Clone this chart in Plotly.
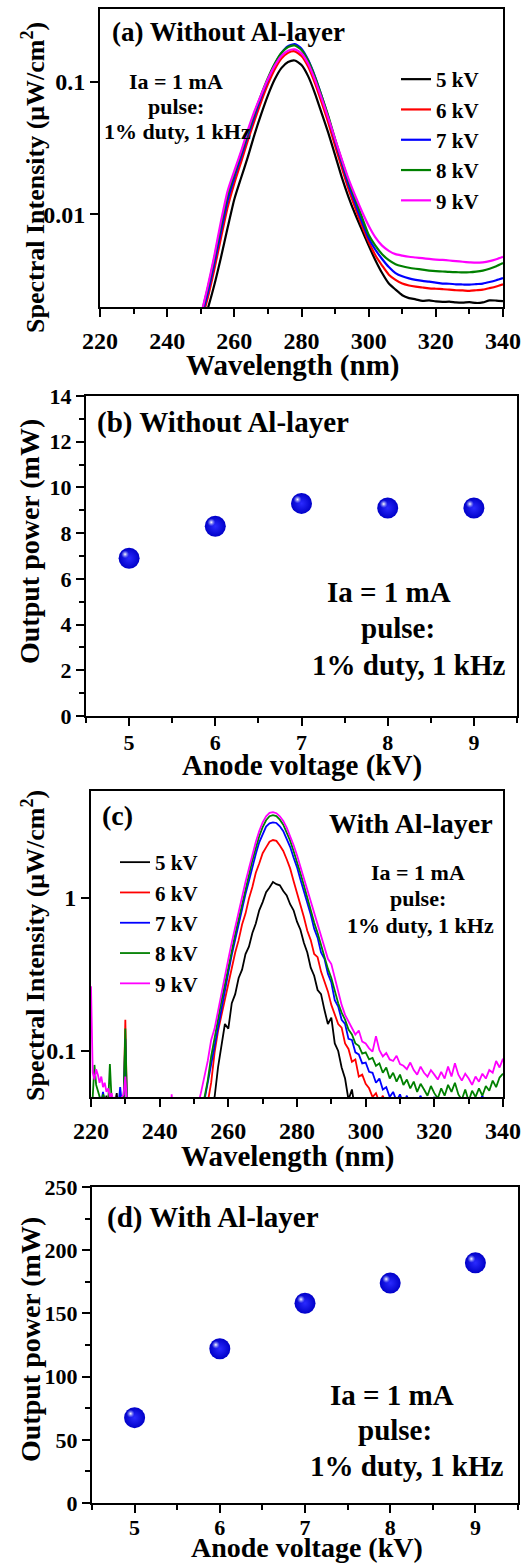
import plotly.graph_objects as go

W, H = 524, 1565
FONT = '"Liberation Serif", "Times New Roman", Times, serif'

# ---------------- data ----------------
series_names = ["5 kV", "6 kV", "7 kV", "8 kV", "9 kV"]
series_colors = ["#000000", "#ff0000", "#0000ff", "#008000", "#ff00ff"]

# (a) spectra without Al-layer, 2 nm step
wl_a = list(range(250, 341, 2))
spec_a_5kv = [0.0013, 0.0019, 0.0029, 0.0047, 0.0079, 0.0130, 0.0188, 0.027, 0.040, 0.057,
              0.079, 0.104, 0.127, 0.141, 0.145, 0.134, 0.110, 0.082, 0.058, 0.041,
              0.028, 0.019, 0.0135, 0.0100, 0.0076, 0.0058, 0.0045, 0.0036, 0.0030, 0.0027,
              0.00245, 0.00233, 0.00228, 0.00222, 0.00224, 0.00220, 0.00218, 0.00219, 0.00216, 0.00215,
              0.00217, 0.00214, 0.00216, 0.00224, 0.00223, 0.00221]
spec_a_6kv = [0.0015, 0.0023, 0.0038, 0.0066, 0.0113, 0.0172, 0.0248, 0.036, 0.051, 0.071,
              0.096, 0.124, 0.150, 0.166, 0.170, 0.157, 0.130, 0.098, 0.070, 0.049,
              0.033, 0.0225, 0.0155, 0.0112, 0.0082, 0.0062, 0.0049, 0.0041, 0.0035, 0.0032,
              0.00300, 0.00290, 0.00284, 0.00280, 0.00276, 0.00274, 0.00272, 0.00270, 0.00267, 0.00266,
              0.00264, 0.00267, 0.00270, 0.00277, 0.00285, 0.00296]
spec_a_7kv = [0.0016, 0.0025, 0.0042, 0.0074, 0.0127, 0.0190, 0.0272, 0.039, 0.055, 0.077,
              0.104, 0.135, 0.165, 0.186, 0.193, 0.178, 0.146, 0.110, 0.078, 0.054,
              0.036, 0.0245, 0.0168, 0.0121, 0.0088, 0.0066, 0.0054, 0.0046, 0.0040, 0.0036,
              0.00340, 0.00328, 0.00320, 0.00314, 0.00310, 0.00305, 0.00300, 0.00299, 0.00296, 0.00295,
              0.00294, 0.00297, 0.00300, 0.00308, 0.00318, 0.00330]
spec_a_8kv = [0.0017, 0.0027, 0.0046, 0.0082, 0.0140, 0.0203, 0.0288, 0.041, 0.058, 0.080,
              0.107, 0.137, 0.165, 0.183, 0.188, 0.174, 0.144, 0.109, 0.078, 0.055,
              0.037, 0.0255, 0.0178, 0.0130, 0.0095, 0.0070, 0.0058, 0.0050, 0.0045, 0.0042,
              0.00405, 0.00395, 0.00388, 0.00382, 0.00376, 0.00372, 0.00370, 0.00367, 0.00366, 0.00364,
              0.00365, 0.00369, 0.00376, 0.00388, 0.00405, 0.00428]
spec_a_9kv = [0.0017, 0.0028, 0.0048, 0.0088, 0.0150, 0.0213, 0.0298, 0.043, 0.060, 0.080,
              0.105, 0.132, 0.157, 0.172, 0.176, 0.164, 0.137, 0.104, 0.075, 0.053,
              0.037, 0.026, 0.0185, 0.0138, 0.0105, 0.0082, 0.0067, 0.0058, 0.0053, 0.0050,
              0.00488, 0.00478, 0.00472, 0.00466, 0.00460, 0.00455, 0.00452, 0.00448, 0.00443, 0.00438,
              0.00434, 0.00431, 0.00434, 0.00443, 0.00458, 0.00478]

# (b) output power without Al-layer
anode_kv = [5, 6, 7, 8, 9]
power_b = [6.9, 8.3, 9.3, 9.1, 9.1]

# (c) spectra with Al-layer: short-wavelength noise region (0.5 nm step) and main band (1 nm step)
wl_c_low = [220, 220.5, 221, 221.5, 222, 222.5, 223, 223.5, 224, 224.5, 225, 225.5, 226,
            226.5, 227, 227.5, 228, 228.5, 229, 229.5, 230, 230.5, 231, 231.5, 232, 243, 243.5, 244]
low_c_5kv = [0.03, 0.032, 0.035, 0.04, 0.038, 0.042, 0.04, 0.045, 0.044, 0.051, 0.04, 0.038, 0.036,
             0.04, 0.045, 0.053, 0.04, 0.036, 0.034, 0.038, 0.04, 0.035, 0.03, 0.032, 0.03, 0.03, 0.03, 0.03]
low_c_6kv = [0.035, 0.04, 0.045, 0.042, 0.046, 0.04, 0.044, 0.038, 0.042, 0.04, 0.037, 0.04, 0.036,
             0.035, 0.038, 0.034, 0.036, 0.04, 0.042, 0.045, 0.160, 0.04, 0.035, 0.032, 0.03, 0.03, 0.03, 0.03]
low_c_7kv = [0.035, 0.042, 0.046, 0.048, 0.044, 0.05, 0.046, 0.054, 0.048, 0.04, 0.043, 0.038, 0.04,
             0.036, 0.038, 0.04, 0.044, 0.058, 0.045, 0.048, 0.120, 0.04, 0.036, 0.033, 0.03, 0.03, 0.03, 0.03]
low_c_8kv = [0.04, 0.05, 0.081, 0.06, 0.055, 0.05, 0.046, 0.052, 0.048, 0.045, 0.046, 0.082, 0.048,
             0.042, 0.04, 0.038, 0.042, 0.044, 0.046, 0.048, 0.140, 0.042, 0.038, 0.034, 0.03, 0.03, 0.03, 0.03]
low_c_9kv = [0.265, 0.072, 0.065, 0.076, 0.07, 0.062, 0.068, 0.058, 0.062, 0.054, 0.057, 0.05, 0.053,
             0.046, 0.05, 0.044, 0.047, 0.043, 0.05, 0.052, 0.068, 0.045, 0.04, 0.035, 0.03, 0.03, 0.052, 0.03]

wl_c = list(range(251, 341))
spec_c_5kv = [0.030, 0.028, 0.033, 0.031, 0.040, 0.050, 0.078, 0.112, 0.150, 0.140,
              0.205, 0.235, 0.300, 0.340, 0.430, 0.480, 0.590, 0.680, 0.830, 0.940,
              1.090, 1.170, 1.270, 1.230, 1.210, 1.110, 1.040, 0.910, 0.830, 0.700,
              0.620, 0.510, 0.440, 0.350, 0.310, 0.250, 0.235, 0.185, 0.150, 0.165,
              0.112, 0.100, 0.078, 0.066, 0.048, 0.056, 0.040, 0.046, 0.036, 0.040,
              0.035, 0.032, 0.036, 0.033, 0.038, 0.034, 0.031, 0.035, 0.033, 0.030,
              0.034, 0.032, 0.036, 0.031, 0.033, 0.035, 0.030, 0.034, 0.032, 0.031,
              0.035, 0.033, 0.030, 0.034, 0.032, 0.036, 0.031, 0.033, 0.035, 0.032,
              0.034, 0.031, 0.033, 0.036, 0.032, 0.034, 0.033, 0.035, 0.032, 0.034]
spec_c_6kv = [0.032, 0.036, 0.041, 0.046, 0.062, 0.098, 0.135, 0.170, 0.215, 0.280,
              0.340, 0.440, 0.530, 0.670, 0.790, 0.990, 1.180, 1.460, 1.680, 1.960,
              2.140, 2.330, 2.390, 2.360, 2.200, 2.030, 1.790, 1.560, 1.290, 1.090,
              0.890, 0.750, 0.610, 0.530, 0.430, 0.410, 0.330, 0.280, 0.245, 0.200,
              0.175, 0.150, 0.142, 0.112, 0.103, 0.085, 0.088, 0.068, 0.070, 0.061,
              0.057, 0.050, 0.053, 0.046, 0.051, 0.044, 0.048, 0.042, 0.045, 0.040,
              0.043, 0.039, 0.041, 0.038, 0.042, 0.040, 0.037, 0.041, 0.039, 0.042,
              0.038, 0.040, 0.043, 0.039, 0.041, 0.038, 0.042, 0.040, 0.039, 0.041,
              0.043, 0.040, 0.038, 0.042, 0.041, 0.039, 0.043, 0.040, 0.042, 0.044]
spec_c_7kv = [0.036, 0.040, 0.047, 0.062, 0.086, 0.108, 0.150, 0.198, 0.262, 0.325,
              0.425, 0.535, 0.690, 0.840, 1.060, 1.290, 1.610, 1.940, 2.310, 2.640,
              2.930, 3.070, 3.120, 3.090, 2.940, 2.730, 2.440, 2.160, 1.840, 1.590,
              1.320, 1.110, 0.910, 0.780, 0.630, 0.550, 0.440, 0.400, 0.320, 0.280,
              0.215, 0.195, 0.160, 0.150, 0.120, 0.118, 0.098, 0.095, 0.083, 0.084,
              0.073, 0.072, 0.062, 0.066, 0.056, 0.058, 0.050, 0.054, 0.047, 0.052,
              0.045, 0.051, 0.044, 0.049, 0.046, 0.051, 0.043, 0.047, 0.045, 0.050,
              0.044, 0.046, 0.043, 0.047, 0.045, 0.042, 0.046, 0.044, 0.047, 0.043,
              0.045, 0.042, 0.046, 0.051, 0.044, 0.047, 0.043, 0.046, 0.048, 0.047]
spec_c_8kv = [0.036, 0.041, 0.049, 0.064, 0.092, 0.118, 0.160, 0.212, 0.268, 0.350,
              0.448, 0.580, 0.730, 0.920, 1.150, 1.420, 1.760, 2.110, 2.530, 2.900,
              3.220, 3.420, 3.480, 3.430, 3.250, 3.010, 2.700, 2.370, 2.030, 1.730,
              1.450, 1.210, 1.000, 0.840, 0.690, 0.590, 0.490, 0.420, 0.345, 0.300,
              0.245, 0.205, 0.178, 0.160, 0.138, 0.128, 0.112, 0.108, 0.096, 0.098,
              0.088, 0.090, 0.080, 0.083, 0.072, 0.078, 0.066, 0.072, 0.063, 0.070,
              0.060, 0.065, 0.057, 0.063, 0.054, 0.061, 0.056, 0.051, 0.059, 0.053,
              0.049, 0.057, 0.051, 0.060, 0.054, 0.062, 0.052, 0.048, 0.056, 0.047,
              0.055, 0.050, 0.057, 0.051, 0.059, 0.055, 0.064, 0.058, 0.067, 0.071]
spec_c_9kv = [0.043, 0.053, 0.066, 0.086, 0.118, 0.140, 0.182, 0.240, 0.312, 0.398,
              0.512, 0.648, 0.822, 1.020, 1.270, 1.560, 1.920, 2.320, 2.740, 3.120,
              3.420, 3.600, 3.640, 3.580, 3.420, 3.180, 2.880, 2.560, 2.220, 1.900,
              1.600, 1.350, 1.120, 0.960, 0.800, 0.690, 0.580, 0.490, 0.400, 0.370,
              0.300, 0.250, 0.200, 0.172, 0.155, 0.142, 0.128, 0.136, 0.115, 0.112,
              0.104, 0.099, 0.125, 0.101, 0.092, 0.097, 0.088, 0.086, 0.093, 0.082,
              0.080, 0.076, 0.084, 0.075, 0.070, 0.079, 0.072, 0.068, 0.075, 0.070,
              0.065, 0.073, 0.066, 0.079, 0.068, 0.083, 0.070, 0.064, 0.071, 0.066,
              0.060, 0.068, 0.063, 0.071, 0.066, 0.075, 0.072, 0.086, 0.078, 0.089]

# (d) output power with Al-layer
power_d = [67.5, 122, 158, 174, 190]

# minor tick positions of the two log axes
minor_ticks_a = [0.002, 0.003, 0.004, 0.005, 0.006, 0.007, 0.008, 0.009,
                 0.02, 0.03, 0.04, 0.05, 0.06, 0.07, 0.08, 0.09, 0.2, 0.3]
minor_ticks_c = [0.06, 0.07, 0.08, 0.09, 0.2, 0.3, 0.4, 0.5, 0.6, 0.7, 0.8, 0.9,
                 2, 3, 4, 5]

spec_a = [spec_a_5kv, spec_a_6kv, spec_a_7kv, spec_a_8kv, spec_a_9kv]
low_c = [low_c_5kv, low_c_6kv, low_c_7kv, low_c_8kv, low_c_9kv]
spec_c = [spec_c_5kv, spec_c_6kv, spec_c_7kv, spec_c_8kv, spec_c_9kv]


# ---------------- helpers ----------------
def fx(p):
    return p / W


def fy(p):
    return 1 - p / H


fig = go.Figure()

# panel (a)
for name, color, ys in zip(series_names, series_colors, spec_a):
    fig.add_trace(go.Scatter(x=wl_a, y=ys, mode="lines", name=name,
                             line=dict(color=color, width=2.2, shape="spline", smoothing=0.6),
                             xaxis="x", yaxis="y", legend="legend"))

# panel (c)
for name, color, lo, ys in zip(series_names, series_colors, low_c, spec_c):
    fig.add_trace(go.Scatter(x=wl_c_low + wl_c, y=lo + ys, mode="lines", name=name,
                             line=dict(color=color, width=1.8),
                             xaxis="x3", yaxis="y3", legend="legend2"))

# panels (b) and (d): shaded spheres; the glint is drawn on hidden axes
# whose boxes sit a few pixels up and left of the real ones
for xa, ya, xg, yg, vals in (("x2", "y2", "x6", "y6", power_b),
                             ("x4", "y4", "x7", "y7", power_d)):
    fig.add_trace(go.Scatter(x=anode_kv, y=vals, mode="markers", showlegend=False,
                             marker=dict(size=21, color="#0000c8",
                                         gradient=dict(type="radial", color="#2a2aff"),
                                         line=dict(width=0)),
                             xaxis=xa, yaxis=ya))
    fig.add_trace(go.Scatter(x=anode_kv, y=vals, mode="markers", showlegend=False,
                             marker=dict(size=8, color="rgba(150,160,255,0)",
                                         gradient=dict(type="radial", color="rgba(255,255,255,1)"),
                                         line=dict(width=0)),
                             xaxis=xg, yaxis=yg, hoverinfo="skip"))

tick_font_big = dict(family=FONT, size=24, color="black", weight="bold")
tick_font_small = dict(family=FONT, size=22, color="black", weight="bold")
axis_common = dict(showline=True, linecolor="black", linewidth=2, mirror=True,
                   ticks="outside", tickwidth=2, ticklen=8, tickcolor="black",
                   showgrid=False, zeroline=False, automargin=False,
                   tickfont=tick_font_big)
minor_lin = dict(ticks="outside", ticklen=5, tickwidth=2, tickcolor="black", showgrid=False)
minor_log = dict(showline=False, showgrid=False, zeroline=False, automargin=False,
                 ticks="outside", ticklen=5, tickwidth=1.5, tickcolor="black",
                 showticklabels=False, type="log", side="left")
hidden = dict(visible=False, automargin=False)

# pixel boxes of the four panels
box_a = (100, 503, 9, 307)
box_b = (86, 517, 396, 716)
box_c = (91, 503, 791, 1097)
box_d = (92, 518, 1187, 1503)


def xdom(b, s=0):
    return [fx(b[0] + s), fx(b[1] + s)]


def ydom(b, s=0):
    return [fy(b[3] + s), fy(b[2] + s)]


fig.update_layout(
    xaxis=dict(axis_common, domain=xdom(box_a), anchor="y", range=[220, 340],
               tickvals=[220, 240, 260, 280, 300, 320, 340], ticklabelstandoff=3,
               minor=dict(minor_lin, dtick=10, tick0=220)),
    yaxis=dict(axis_common, domain=ydom(box_a), anchor="x", type="log", range=[-2.70, -0.45],
               tickvals=[0.01, 0.1], ticktext=["0.01", "0.1"]),
    yaxis5=dict(minor_log, overlaying="y", anchor="x", range=[-2.70, -0.45], tickvals=minor_ticks_a),
    xaxis2=dict(axis_common, domain=xdom(box_b), anchor="y2", range=[4.5, 9.5],
                tickvals=[5, 6, 7, 8, 9], tickfont=tick_font_small, ticklabelstandoff=-2,
                minor=dict(minor_lin, dtick=0.5, tick0=4.5)),
    yaxis2=dict(axis_common, domain=ydom(box_b), anchor="x2", range=[0, 14], dtick=2,
                tickfont=tick_font_small, minor=dict(minor_lin, dtick=1)),
    xaxis3=dict(axis_common, domain=xdom(box_c), anchor="y3", range=[220, 340],
                tickvals=[220, 240, 260, 280, 300, 320, 340], ticklabelstandoff=3,
                minor=dict(minor_lin, dtick=10, tick0=220)),
    yaxis3=dict(axis_common, domain=ydom(box_c), anchor="x3", type="log", range=[-1.301, 0.699],
                tickvals=[0.1, 1], ticktext=["0.1", "1"]),
    yaxis8=dict(minor_log, overlaying="y3", anchor="x3", range=[-1.301, 0.699], tickvals=minor_ticks_c),
    xaxis4=dict(axis_common, domain=xdom(box_d), anchor="y4", range=[4.5, 9.5],
                tickvals=[5, 6, 7, 8, 9], tickfont=tick_font_small, ticklabelstandoff=-4,
                minor=dict(minor_lin, dtick=0.5, tick0=4.5)),
    yaxis4=dict(axis_common, domain=ydom(box_d), anchor="x4", range=[0, 250], dtick=50,
                tickfont=tick_font_small, minor=dict(minor_lin, dtick=25)),
    # hidden glint axes
    xaxis6=dict(hidden, domain=xdom(box_b, -4), anchor="y6", range=[4.5, 9.5]),
    yaxis6=dict(hidden, domain=ydom(box_b, -4), anchor="x6", range=[0, 14]),
    xaxis7=dict(hidden, domain=xdom(box_d, -4), anchor="y7", range=[4.5, 9.5]),
    yaxis7=dict(hidden, domain=ydom(box_d, -4), anchor="x7", range=[0, 250]),
)

legend_common = dict(font=dict(family=FONT, size=21, color="black", weight="bold"),
                     bgcolor="rgba(0,0,0,0)", borderwidth=0, xanchor="left", yanchor="top",
                     itemwidth=30, tracegroupgap=0)
fig.update_layout(
    legend=dict(legend_common, x=fx(396), y=fy(59)),
    legend2=dict(legend_common, x=fx(115), y=fy(842)),
)

annotations = []


def label(text, x, y, size, xanchor="center", angle=0):
    annotations.append(dict(text=text, x=fx(x), y=fy(y), xref="paper", yref="paper",
                            xanchor=xanchor, yanchor="middle", showarrow=False, textangle=angle,
                            font=dict(family=FONT, size=size, color="black", weight="bold")))


# panel (a)
label("(a) Without Al-layer", 110, 32, 27, xanchor="left")
label("Ia = 1 mA", 176, 81, 22)
label("pulse:", 176, 106, 22)
label("1% duty, 1 kHz", 177, 132, 22)
label("Spectral Intensity (μW/cm<sup>2</sup>)", 33, 178, 26, angle=-90)
label("Wavelength (nm)", 292, 366, 29)

# panel (b)
label("(b) Without Al-layer", 95, 423, 29, xanchor="left")
label("Ia = 1 mA", 389, 592, 29)
label("pulse:", 398, 628, 29)
label("1% duty, 1 kHz", 409, 665, 29)
label("Output power (mW)", 30, 542, 28, angle=-90)
label("Anode voltage (kV)", 302, 765, 29)

# panel (c)
label("(c)", 100, 815, 28, xanchor="left")
label("With Al-layer", 495, 823, 28, xanchor="right")
label("Ia = 1 mA", 418, 872, 22)
label("pulse:", 418, 898, 22)
label("1% duty, 1 kHz", 420, 925, 22)
label("Spectral Intensity (μW/cm<sup>2</sup>)", 33, 946, 26, angle=-90)
label("Wavelength (nm)", 287, 1156, 29)

# panel (d)
label("(d) With Al-layer", 105, 1217, 29, xanchor="left")
label("Ia = 1 mA", 392, 1395, 29)
label("pulse:", 395, 1430, 29)
label("1% duty, 1 kHz", 407, 1466, 29)
label("Output power (mW)", 30, 1340, 28, angle=-90)
label("Anode voltage (kV)", 307, 1547, 28)

fig.update_layout(annotations=annotations, width=W, height=H,
                  margin=dict(l=0, r=0, t=0, b=0, autoexpand=False),
                  paper_bgcolor="white", plot_bgcolor="rgba(0,0,0,0)",
                  font=dict(family=FONT, color="black"))

fig.write_html("out.html")
